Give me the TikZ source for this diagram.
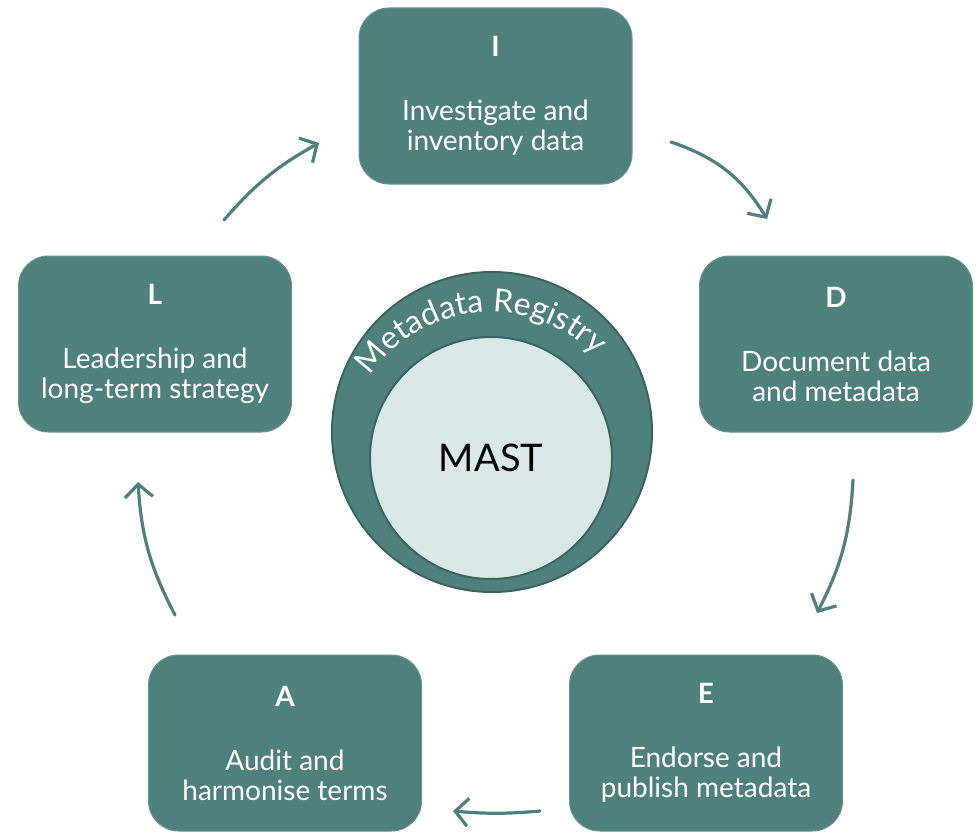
\documentclass[tikz,border=0pt]{standalone}
\usepackage{fontspec}
\setmainfont{Lato}
\usepackage{tikz}
\usetikzlibrary{arrows.meta, decorations.text}

\definecolor{mastteal}{RGB}{78,128,124}
\definecolor{ringedge}{RGB}{58,100,96}
\definecolor{mastpale}{RGB}{217,232,230}

\tikzset{
  stagebox/.style={rectangle, rounded corners=30pt, fill=mastteal, draw=mastteal!85!white, line width=1pt,
    text=white, minimum width=273pt, minimum height=176pt, align=center, font=\fontsize{28}{30}\selectfont},
  cyclearrow/.style={-{Straight Barb[length=13pt, width=28pt]}, draw=mastteal, line width=3.2pt, line cap=round}
}

\begin{document}
\begin{tikzpicture}[x=1pt, y=1pt]
\useasboundingbox (0,0) rectangle (979,-832);
% stages
\node[stagebox] (I) at (495.5,-96) {{\bfseries I}\\[34pt]Investigate and\\inventory data};
\node[stagebox] (D) at (836,-344) {{\bfseries D}\\[34pt]Document data\\and metadata};
\node[stagebox] (E) at (706,-743) {{\bfseries E}\\[34pt]Endorse and\\publish metadata};
\node[stagebox] (A) at (285,-743) {{\bfseries A}\\[34pt]Audit and\\harmonise terms};
\node[stagebox] (L) at (155,-344) {{\bfseries L}\\[34pt]Leadership and\\long-term strategy};
% registry and MAST
\node[circle, minimum size=320pt, fill=mastteal, draw=ringedge, line width=2pt] (ring) at (492,-432) {};
\node[circle, minimum size=242pt, fill=mastpale, draw=ringedge, line width=2pt, font=\fontsize{38}{38}\selectfont] (mast) at (491,-458) {MAST};
\path[decorate, decoration={text along path, text align=center,
  text={|\fontsize{32}{32}\selectfont\color{white}|Metadata Registry}}]
  ([shift={(154:146)}]mast.center) arc[start angle=154, end angle=36, radius=146];
% arrow ends
\coordinate (ID1) at (671,-142);
\coordinate (ID2) at (767,-219);
\coordinate (DE1) at (853,-480);
\coordinate (DE2) at (817,-613);
\coordinate (EA1) at (540,-811);
\coordinate (EA2) at (453,-811);
\coordinate (AL1) at (175,-615);
\coordinate (AL2) at (138,-482);
\coordinate (LI1) at (224,-220);
\coordinate (LI2) at (319,-143);
\draw[cyclearrow] (ID1) to[bend left=20] (ID2);
\draw[cyclearrow] (DE1) to[bend left=12] (DE2);
\draw[cyclearrow] (EA1) to[bend left=5] (EA2);
\draw[cyclearrow] (AL1) to[bend left=12] (AL2);
\draw[cyclearrow] (LI1) to[bend left=10] (LI2);
\end{tikzpicture}
\end{document}
